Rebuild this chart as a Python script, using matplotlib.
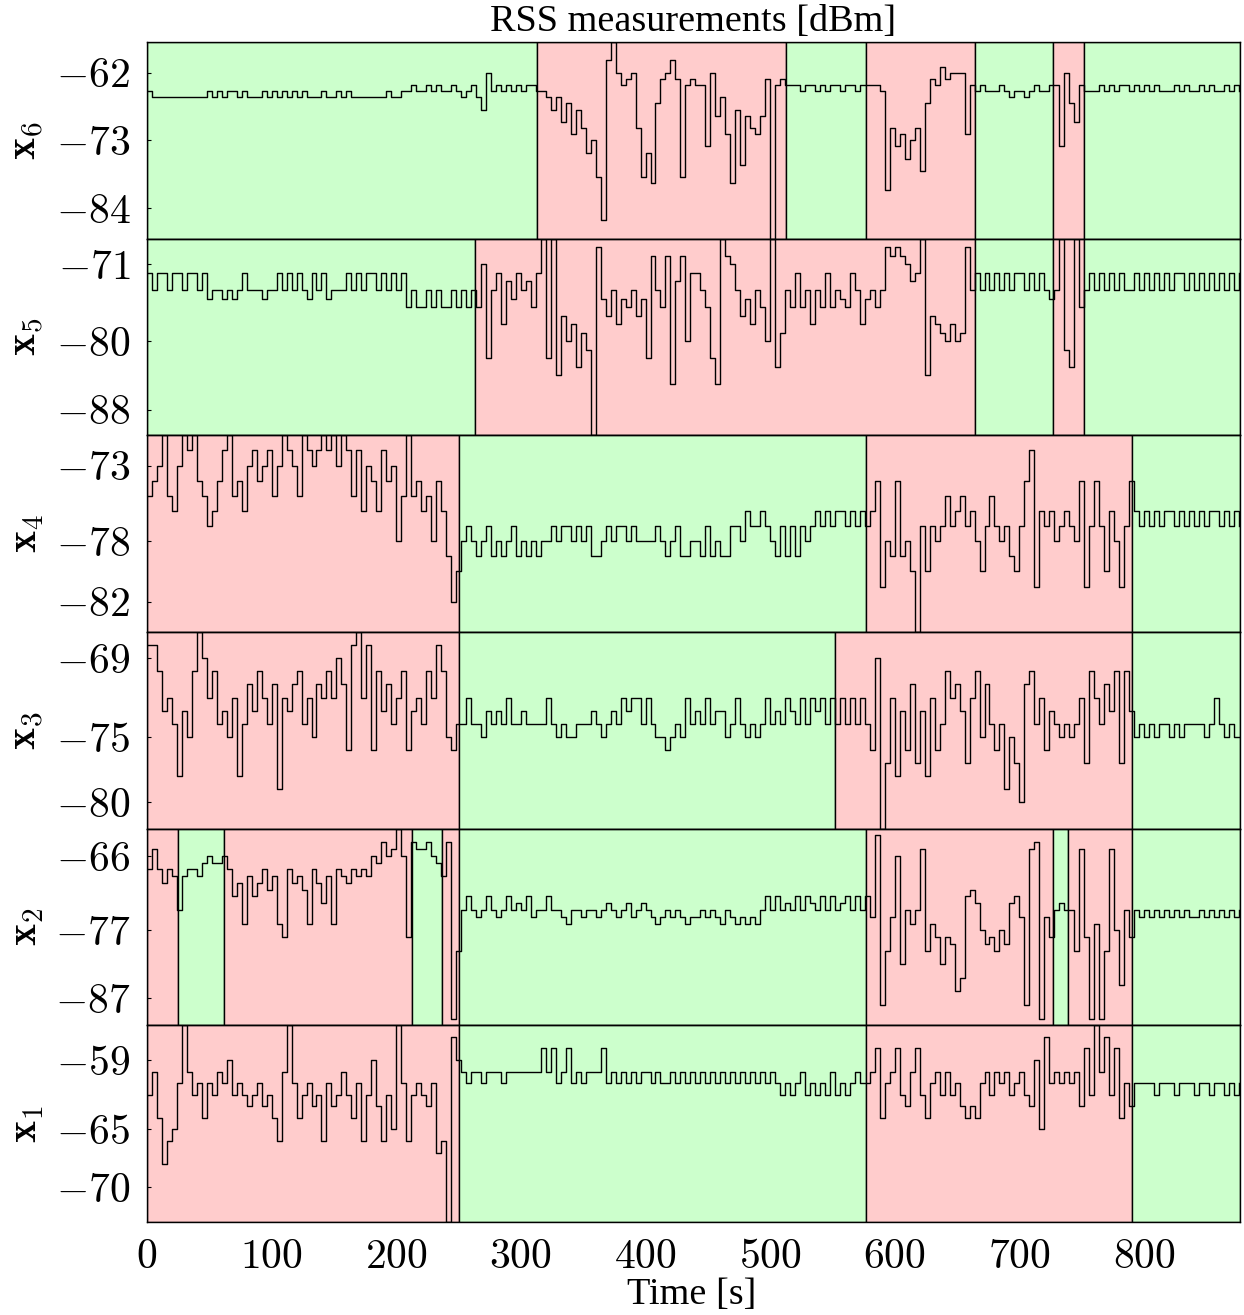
import numpy as np
import matplotlib
matplotlib.use("Agg")
import matplotlib.pyplot as plt

plt.rcParams['mathtext.fontset'] = 'cm'
plt.rcParams['font.family'] = 'Liberation Serif'

# time axis, one sample every 4 s
t = np.arange(0, 880, 4)

# RSS per node [dBm]
x6 = [-65, -66, -66, -66, -66, -66, -66, -66, -66, -66,
      -66, -66, -65, -66, -65, -66, -65, -65, -66, -65,
      -66, -66, -66, -65, -66, -65, -66, -65, -66, -65,
      -66, -65, -66, -66, -66, -65, -66, -66, -65, -66,
      -65, -66, -66, -66, -66, -66, -66, -66, -65, -66,
      -66, -65, -65, -64, -65, -65, -64, -65, -64, -65,
      -65, -64, -65, -66, -65, -64, -66, -68, -62, -65,
      -64, -65, -64, -65, -64, -65, -64, -64, -65, -65,
      -66, -68, -66, -70, -67, -72, -68, -71, -75, -73,
      -79, -86, -60, -57, -62, -64, -63, -62, -71, -79,
      -75, -80, -67, -63, -62, -60, -63, -79, -64, -63,
      -64, -64, -74, -62, -69, -66, -72, -80, -68, -77,
      -69, -71, -72, -69, -63, -89, -64, -63, -64, -64,
      -64, -65, -64, -64, -65, -64, -65, -64, -64, -65,
      -64, -64, -65, -64, -64, -64, -64, -65, -81, -71,
      -74, -72, -76, -73, -71, -78, -67, -63, -64, -61,
      -63, -62, -62, -62, -72, -64, -65, -64, -65, -65,
      -65, -64, -65, -66, -65, -65, -66, -65, -64, -65,
      -65, -64, -64, -74, -62, -67, -70, -64, -65, -65,
      -65, -64, -65, -64, -65, -64, -64, -65, -64, -65,
      -64, -65, -64, -65, -65, -65, -64, -65, -64, -65,
      -65, -64, -65, -64, -65, -65, -64, -65, -64, -65]

x5 = [-72, -74, -72, -72, -74, -72, -72, -74, -72, -72,
      -74, -72, -75, -74, -74, -75, -74, -75, -74, -72,
      -74, -74, -74, -75, -74, -74, -72, -74, -72, -74,
      -72, -74, -75, -72, -74, -72, -75, -74, -74, -74,
      -72, -74, -72, -74, -72, -72, -74, -72, -74, -72,
      -74, -72, -76, -74, -76, -76, -74, -76, -74, -76,
      -76, -74, -76, -74, -76, -74, -76, -71, -82, -74,
      -72, -78, -73, -75, -72, -74, -73, -76, -72, -68,
      -82, -68, -84, -77, -80, -78, -83, -79, -81, -91,
      -69, -75, -77, -74, -78, -75, -76, -74, -77, -75,
      -82, -70, -74, -76, -70, -85, -73, -70, -80, -72,
      -72, -74, -76, -82, -85, -68, -70, -71, -74, -77,
      -75, -78, -74, -76, -80, -68, -83, -79, -74, -76,
      -72, -76, -74, -78, -74, -76, -72, -76, -74, -75,
      -76, -72, -74, -78, -75, -74, -76, -74, -69, -70,
      -69, -70, -71, -73, -72, -68, -84, -77, -78, -79,
      -80, -78, -80, -79, -69, -74, -72, -74, -72, -74,
      -72, -74, -72, -74, -72, -72, -74, -72, -74, -72,
      -74, -75, -74, -68, -81, -83, -68, -76, -74, -72,
      -74, -72, -74, -72, -74, -72, -74, -74, -72, -74,
      -72, -74, -72, -74, -72, -74, -72, -72, -74, -72,
      -74, -72, -74, -72, -74, -72, -74, -72, -74, -72]

x4 = [-75, -74, -73, -71, -75, -76, -73, -71, -72, -71,
      -74, -75, -77, -76, -74, -72, -71, -75, -74, -76,
      -73, -72, -74, -73, -72, -75, -73, -71, -72, -73,
      -75, -71, -72, -73, -72, -71, -72, -71, -73, -71,
      -72, -75, -72, -76, -73, -74, -76, -72, -74, -73,
      -78, -75, -71, -75, -74, -76, -75, -78, -74, -76,
      -79, -82, -80, -78, -77, -78, -79, -78, -77, -79,
      -78, -79, -78, -77, -79, -78, -79, -78, -79, -78,
      -78, -77, -78, -77, -77, -78, -77, -78, -77, -79,
      -79, -78, -77, -78, -77, -77, -78, -77, -78, -78,
      -78, -78, -77, -78, -79, -78, -77, -79, -79, -78,
      -78, -79, -77, -79, -78, -79, -79, -77, -77, -78,
      -76, -77, -77, -76, -77, -78, -79, -77, -79, -77,
      -79, -77, -78, -77, -76, -77, -76, -77, -76, -76,
      -77, -76, -77, -76, -77, -76, -74, -81, -78, -79,
      -74, -79, -78, -80, -84, -77, -80, -77, -78, -77,
      -75, -77, -76, -75, -77, -76, -78, -80, -77, -75,
      -77, -78, -77, -79, -80, -77, -74, -72, -81, -76,
      -77, -76, -78, -77, -76, -77, -78, -74, -81, -77,
      -74, -77, -80, -76, -78, -81, -77, -74, -76, -77,
      -76, -77, -76, -77, -76, -76, -77, -76, -77, -76,
      -77, -76, -77, -76, -76, -77, -76, -77, -76, -77]

x3 = [-68, -68, -70, -73, -72, -74, -78, -73, -75, -70,
      -67, -69, -72, -70, -74, -73, -75, -72, -78, -74,
      -71, -73, -70, -72, -74, -71, -79, -72, -73, -71,
      -70, -74, -72, -75, -71, -72, -70, -72, -69, -71,
      -76, -68, -67, -72, -68, -76, -70, -73, -71, -74,
      -72, -70, -76, -73, -72, -74, -70, -72, -68, -70,
      -75, -76, -74, -74, -72, -74, -74, -75, -73, -74,
      -73, -74, -72, -74, -74, -73, -74, -74, -74, -74,
      -72, -74, -75, -74, -75, -75, -74, -74, -74, -73,
      -74, -75, -74, -73, -74, -72, -73, -72, -72, -74,
      -72, -74, -75, -75, -76, -75, -74, -75, -72, -74,
      -73, -74, -72, -74, -73, -73, -75, -74, -72, -74,
      -75, -74, -75, -74, -72, -74, -73, -74, -72, -73,
      -74, -72, -74, -72, -73, -72, -74, -72, -74, -72,
      -74, -72, -74, -72, -74, -76, -69, -82, -77, -72,
      -78, -73, -76, -71, -77, -73, -78, -72, -76, -74,
      -70, -72, -71, -73, -77, -72, -70, -75, -71, -74,
      -76, -74, -79, -75, -77, -80, -71, -70, -74, -72,
      -76, -73, -74, -75, -74, -75, -74, -72, -77, -70,
      -72, -74, -71, -73, -70, -77, -70, -73, -75, -74,
      -75, -74, -75, -74, -74, -75, -74, -75, -74, -74,
      -74, -74, -75, -74, -72, -74, -75, -74, -75, -75]

x2 = [-68, -65, -68, -70, -68, -69, -74, -69, -68, -68,
      -69, -67, -66, -67, -67, -66, -68, -72, -70, -76,
      -69, -72, -70, -68, -71, -69, -76, -78, -68, -70,
      -69, -71, -76, -68, -70, -73, -69, -76, -68, -69,
      -70, -68, -69, -68, -69, -66, -67, -64, -66, -65,
      -62, -66, -78, -64, -65, -65, -64, -66, -67, -69,
      -64, -90, -80, -74, -72, -74, -75, -74, -72, -74,
      -75, -74, -72, -74, -73, -74, -72, -75, -74, -74,
      -72, -74, -74, -75, -76, -74, -74, -75, -74, -74,
      -75, -74, -73, -74, -75, -74, -73, -75, -74, -73,
      -74, -75, -76, -75, -74, -75, -74, -75, -76, -75,
      -75, -74, -75, -74, -75, -76, -74, -75, -76, -75,
      -76, -75, -76, -74, -72, -74, -72, -74, -73, -74,
      -72, -74, -72, -73, -74, -72, -74, -72, -74, -73,
      -72, -74, -72, -74, -72, -75, -63, -88, -80, -75,
      -66, -82, -74, -76, -74, -65, -80, -76, -78, -82,
      -78, -79, -86, -84, -72, -71, -73, -77, -79, -78,
      -80, -77, -79, -73, -72, -75, -88, -65, -64, -90,
      -75, -78, -74, -73, -74, -74, -80, -65, -78, -90,
      -76, -90, -80, -65, -77, -85, -74, -78, -74, -75,
      -74, -75, -74, -75, -74, -75, -74, -75, -74, -75,
      -75, -74, -75, -74, -75, -74, -75, -74, -75, -74]

x1 = [-62, -60, -64, -68, -66, -65, -61, -56, -60, -62,
      -61, -64, -61, -62, -60, -61, -59, -62, -61, -62,
      -63, -62, -61, -63, -62, -64, -66, -60, -56, -61,
      -64, -62, -61, -63, -62, -66, -61, -63, -62, -60,
      -62, -64, -61, -66, -62, -59, -63, -66, -62, -65,
      -56, -61, -66, -62, -61, -62, -63, -61, -67, -66,
      -73, -57, -59, -60, -61, -60, -60, -61, -60, -60,
      -60, -61, -60, -60, -60, -60, -60, -60, -60, -58,
      -60, -58, -61, -60, -58, -61, -60, -61, -60, -60,
      -60, -58, -61, -60, -61, -60, -61, -60, -61, -60,
      -60, -61, -60, -61, -61, -60, -61, -60, -61, -60,
      -61, -60, -61, -60, -61, -60, -61, -60, -61, -60,
      -61, -60, -61, -60, -61, -60, -61, -62, -61, -62,
      -61, -60, -62, -61, -62, -61, -62, -60, -62, -61,
      -62, -61, -60, -61, -61, -60, -58, -64, -61, -60,
      -58, -62, -63, -60, -58, -62, -64, -61, -60, -62,
      -60, -62, -61, -63, -64, -63, -64, -61, -60, -62,
      -60, -61, -60, -62, -61, -60, -62, -63, -59, -65,
      -57, -61, -60, -61, -60, -61, -60, -63, -58, -62,
      -56, -60, -57, -62, -58, -64, -61, -63, -61, -61,
      -61, -61, -62, -61, -61, -61, -62, -61, -61, -61,
      -62, -61, -61, -62, -61, -61, -62, -61, -62, -61]

# state segments: boundaries [s] and state per segment (1 = red, 0 = green)
edges6 = [0, 313, 513, 577, 664, 727, 752, 877]
state6 = [0, 1, 0, 1, 0, 1, 0]
edges5 = [0, 263, 664, 727, 752, 877]
state5 = [0, 1, 0, 1, 0]
edges4 = [0, 250, 577, 790, 877]
state4 = [1, 0, 1, 0]
edges3 = [0, 250, 552, 790, 877]
state3 = [1, 0, 1, 0]
edges2 = [0, 25, 62, 213, 237, 250, 577, 727, 739, 790, 877]
state2 = [1, 0, 1, 0, 1, 0, 1, 0, 1, 0]
edges1 = [0, 250, 577, 790, 877]
state1 = [1, 0, 1, 0]

names = ['6', '5', '4', '3', '2', '1']
series = [x6, x5, x4, x3, x2, x1]
edges = [edges6, edges5, edges4, edges3, edges2, edges1]
states = [state6, state5, state4, state3, state2, state1]
ylims = [(-89, -57), (-91, -68), (-84, -71), (-82, -67), (-91, -62), (-73, -56)]
yticks = [[-62, -73, -84], [-71, -80, -88], [-73, -78, -82],
          [-69, -75, -80], [-66, -77, -87], [-59, -65, -70]]
xticks = [0, 100, 200, 300, 400, 500, 600, 700, 800]

colors = {0: '#ccffcc', 1: '#ffcccc'}

fig, axes = plt.subplots(6, 1, sharex=True, figsize=(12.44, 13.15), dpi=100)
fig.subplots_adjust(left=147/1244, right=1240/1244, top=1-42/1315,
                    bottom=1-1222/1315, hspace=0)

for ax, n, y, ed, st, yl, yt in zip(axes, names, series, edges, states, ylims, yticks):
    for a, b, s in zip(ed[:-1], ed[1:], st):
        ax.axvspan(a, b, facecolor=colors[s], edgecolor='k', lw=1.0)
    ax.plot(t, y, color='k', lw=1.0, drawstyle='steps-post')
    ax.set_ylim(yl)
    ax.set_yticks(yt)
    ax.set_yticklabels([r'$%d$' % v for v in yt])
    ax.tick_params(axis='both', direction='in', length=3, labelsize=30, pad=12)
    ax.tick_params(axis='x', length=0)
    ax.set_ylabel(r'$\mathbf{x}_%s$' % n, fontsize=30)
    ax.yaxis.set_label_coords(-0.092, 0.5)
    for sp in ax.spines.values():
        sp.set_linewidth(1.0)

axes[-1].set_xlim(0, 877)
axes[-1].set_xticks(xticks)
axes[-1].set_xticklabels([r'$%d$' % v for v in xticks])
axes[-1].tick_params(axis='x', pad=12)

fig.text(693.5/1244, 1-22/1315, 'RSS measurements [dBm]', fontsize=27.5,
         ha='center', va='center')
fig.text(692/1244, 1-1295/1315, 'Time [s]', fontsize=27.5,
         ha='center', va='center')

fig.savefig('out.png', dpi=100)
